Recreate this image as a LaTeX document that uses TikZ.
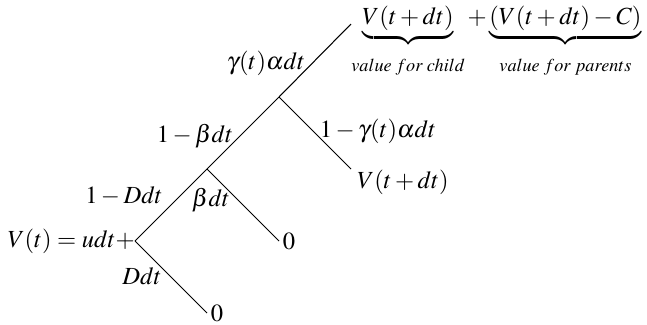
\documentclass[tikz,border=0pt]{standalone}
\usepackage{mathptmx}
\usetikzlibrary{positioning}
\definecolor{ink}{HTML}{000000}
\tikzset{
  % ---- tree ------------------------------------------------------
  branch/.style = {draw=ink, line width=.6pt},
  val/.style    = {font=\fontsize{14}{17}\selectfont, text=ink,
                   inner sep=0pt},
  leaf/.style   = {val, anchor=west, inner sep=2pt},
  % ---- branch probabilities --------------------------------------
  prob/.style   = {val, anchor=base},
}
\newcommand{\brlabel}[1]{\rule{0pt}{13pt}#1}
\newcommand{\brlow}{\rule[-4pt]{0pt}{0pt}}

\begin{document}
\begin{tikzpicture}[x=0.02cm, y=-0.02cm]
  \useasboundingbox (0,0) rectangle (647,325);
  % junctions
  \coordinate (j1) at (207,169);
  \coordinate (j2) at (279,97);
  \coordinate (tip) at (351,24);
  \coordinate (stay) at (351,169);
  % values
  \node[val, anchor=east] (root) at (135,241) {$V(t) = udt+$};
  \node[leaf] (die) at (207,313) {$0$};
  \node[leaf] (lose) at (279,241) {$0$};
  \node[val, anchor=base west] (cont) at (357,188) {$V(t+dt)$};
  \node[val, anchor=base west] (breed) at (351,24)
    {$\underbrace{V(t+dt)\brlow}_{\brlabel{value\;for\;child}}
      +\underbrace{(V(t+dt)-C)\brlow}_{\brlabel{value\;for\;parents}}$};
  % branches
  \draw[branch] (root.east) -- (j1) -- (j2) -- (tip);
  \draw[branch] (root.east) -- (die.west);
  \draw[branch] (j1) -- (lose.west);
  \draw[branch] (j2) -- (stay);
  % probabilities
  \node[prob] (pD) at (142,284) {$Ddt$};
  \node[prob] (pnD) at (124,203) {$1-Ddt$};
  \node[prob] (pB) at (211,206) {$\beta dt$};
  \node[prob] (pnB) at (195,142) {$1-\beta dt$};
  \node[prob] (pG) at (266,69) {$\gamma(t)\alpha dt$};
  \node[prob] (pnG) at (378,137) {$1-\gamma(t)\alpha dt$};
\end{tikzpicture}
\end{document}
